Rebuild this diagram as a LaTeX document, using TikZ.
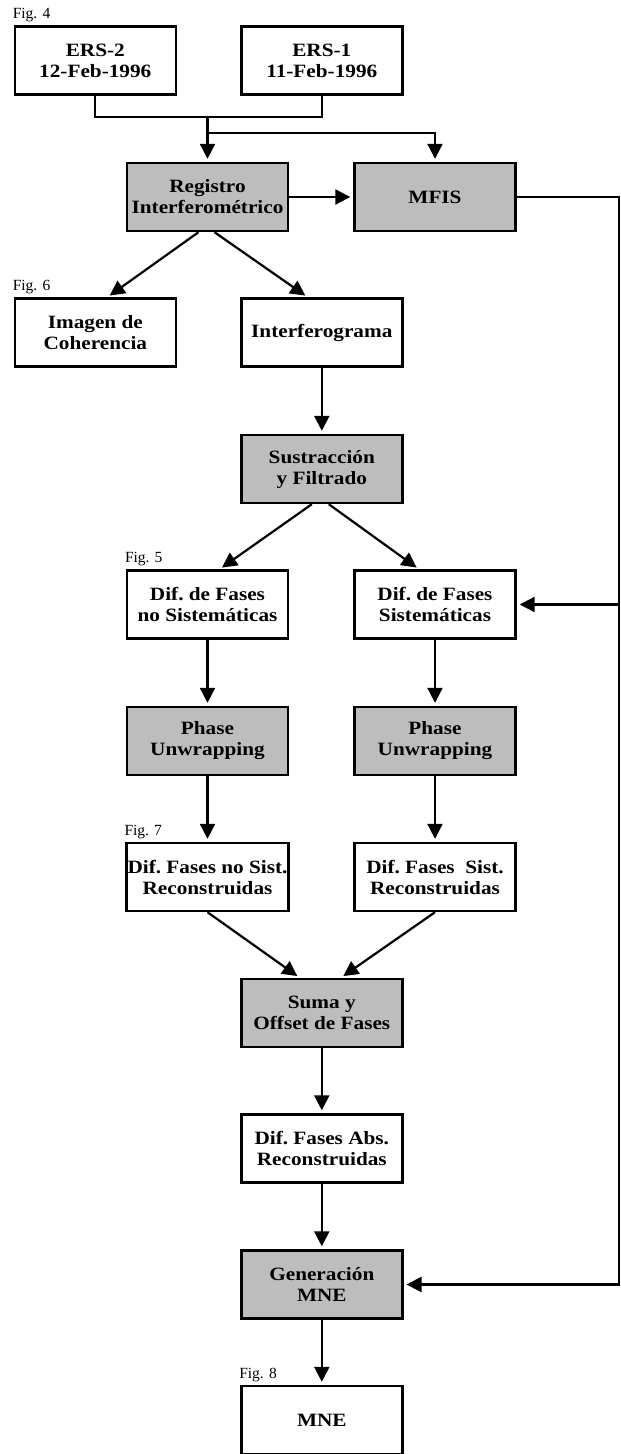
\documentclass[tikz,border=0pt]{standalone}
\usepackage{fontspec}
\setmainfont{Liberation Serif}
\newfontfamily\cajafont{Liberation Serif}[FakeStretch=1.13]
\usepackage{tikz}
\usetikzlibrary{arrows.meta, positioning}

\tikzset{
  caja/.style={draw, line width=2.4pt, minimum width=161pt, minimum height=68pt, inner sep=1pt, align=center,
    font=\cajafont\bfseries\fontsize{18.8}{21}\selectfont\frenchspacing},
  proceso/.style={caja, fill=black!26},
  linea/.style={line width=2.2pt},
  flecha/.style={line width=2.2pt, -{Triangle[length=15pt,width=15pt]}, shorten >=3pt},
  figura/.style={anchor=base west, inner sep=0pt, font=\fontsize{15.5}{16}\selectfont}
}

\begin{document}
\begin{tikzpicture}[x=1pt,y=-1pt]
\useasboundingbox (0,0) rectangle (621,1454);

% imagenes de entrada
\node[caja] (ers2) at (95.3,60.5) {ERS-2\\12-Feb-1996};
\node[caja] (ers1) at (321.8,60.5) {ERS-1\\11-Feb-1996};

% registro y coherencia
\node[proceso] (registro) at (207.5,197) {Registro\\Interferométrico};
\node[proceso] (mfis) at (435,197) {MFIS};
\node[caja] (coherencia) at (95.3,332.5) {Imagen de\\Coherencia};
\node[caja] (interf) at (321.8,332.5) {Interferograma};
\node[proceso] (sustraccion) at (321.8,469) {Sustracción\\y Filtrado};

% dos ramas de fases
\node[caja] (difno) at (207.5,604.5) {Dif. de Fases\\no Sistemáticas};
\node[caja] (difsis) at (435,604.5) {Dif. de Fases\\Sistemáticas};
\node[proceso] (puno) at (207.5,741) {Phase\\Unwrapping};
\node[proceso] (pusis) at (435,741) {Phase\\Unwrapping};
\node[caja] (recno) at (207.5,877) {Dif. Fases no Sist.\\Reconstruidas};
\node[caja] (recsis) at (435,877) {Dif. Fases~ Sist.\\Reconstruidas};

% suma y modelo final
\node[proceso] (suma) at (321.8,1013) {Suma y\\Offset de Fases};
\node[caja] (difabs) at (321.8,1148.5) {Dif. Fases Abs.\\Reconstruidas};
\node[proceso] (generacion) at (321.8,1284.5) {Generación\\MNE};
\node[caja] (mne) at (321.8,1420) {MNE};

% referencias a figuras
\node[figura] (fig4) at ([xshift=-1pt,yshift=6.5pt]ers2.north west) {Fig. 4};
\node[figura] (fig6) at ([xshift=-1pt,yshift=6.5pt]coherencia.north west) {Fig. 6};
\node[figura] (fig5) at ([xshift=-1pt,yshift=6.5pt]difno.north west) {Fig. 5};
\node[figura] (fig7) at ([xshift=-1pt,yshift=6.5pt]recno.north west) {Fig. 7};
\node[figura] (fig8) at ([xshift=-1pt,yshift=6.5pt]mne.north west) {Fig. 8};

% conexiones
\coordinate (union) at (registro.north |- 0,117);
\coordinate (rama) at (registro.north |- 0,133);
\coordinate (retorno) at (mfis.east -| 619,0);
\draw[linea] (ers2.south) |- (union) -| (ers1.south);
\draw[flecha] (union) -- (registro.north);
\draw[flecha] (rama) -| (mfis.north);
\draw[flecha] (registro) -- (mfis);
\draw[flecha] (mfis.east) -- (retorno) |- (generacion.east);
\draw[flecha] (retorno |- difsis.east) -- (difsis.east);

\draw[flecha] ([xshift=-9pt]registro.south) -- ([xshift=12pt]coherencia.north);
\draw[flecha] ([xshift=7pt]registro.south) -- ([xshift=-14pt]interf.north);
\draw[flecha] (interf) -- (sustraccion);
\draw[flecha] ([xshift=-10pt]sustraccion.south) -- ([xshift=12pt]difno.north);
\draw[flecha] ([xshift=7pt]sustraccion.south) -- ([xshift=-16pt]difsis.north);

\draw[flecha] (difno) -- (puno);
\draw[flecha] (difsis) -- (pusis);
\draw[flecha] (puno) -- (recno);
\draw[flecha] (pusis) -- (recsis);
\draw[flecha] (recno.south) -- ([xshift=-22pt]suma.north);
\draw[flecha] (recsis.south) -- ([xshift=19pt]suma.north);
\draw[flecha] (suma) -- (difabs);
\draw[flecha] (difabs) -- (generacion);
\draw[flecha] (generacion) -- (mne);
\end{tikzpicture}
\end{document}
